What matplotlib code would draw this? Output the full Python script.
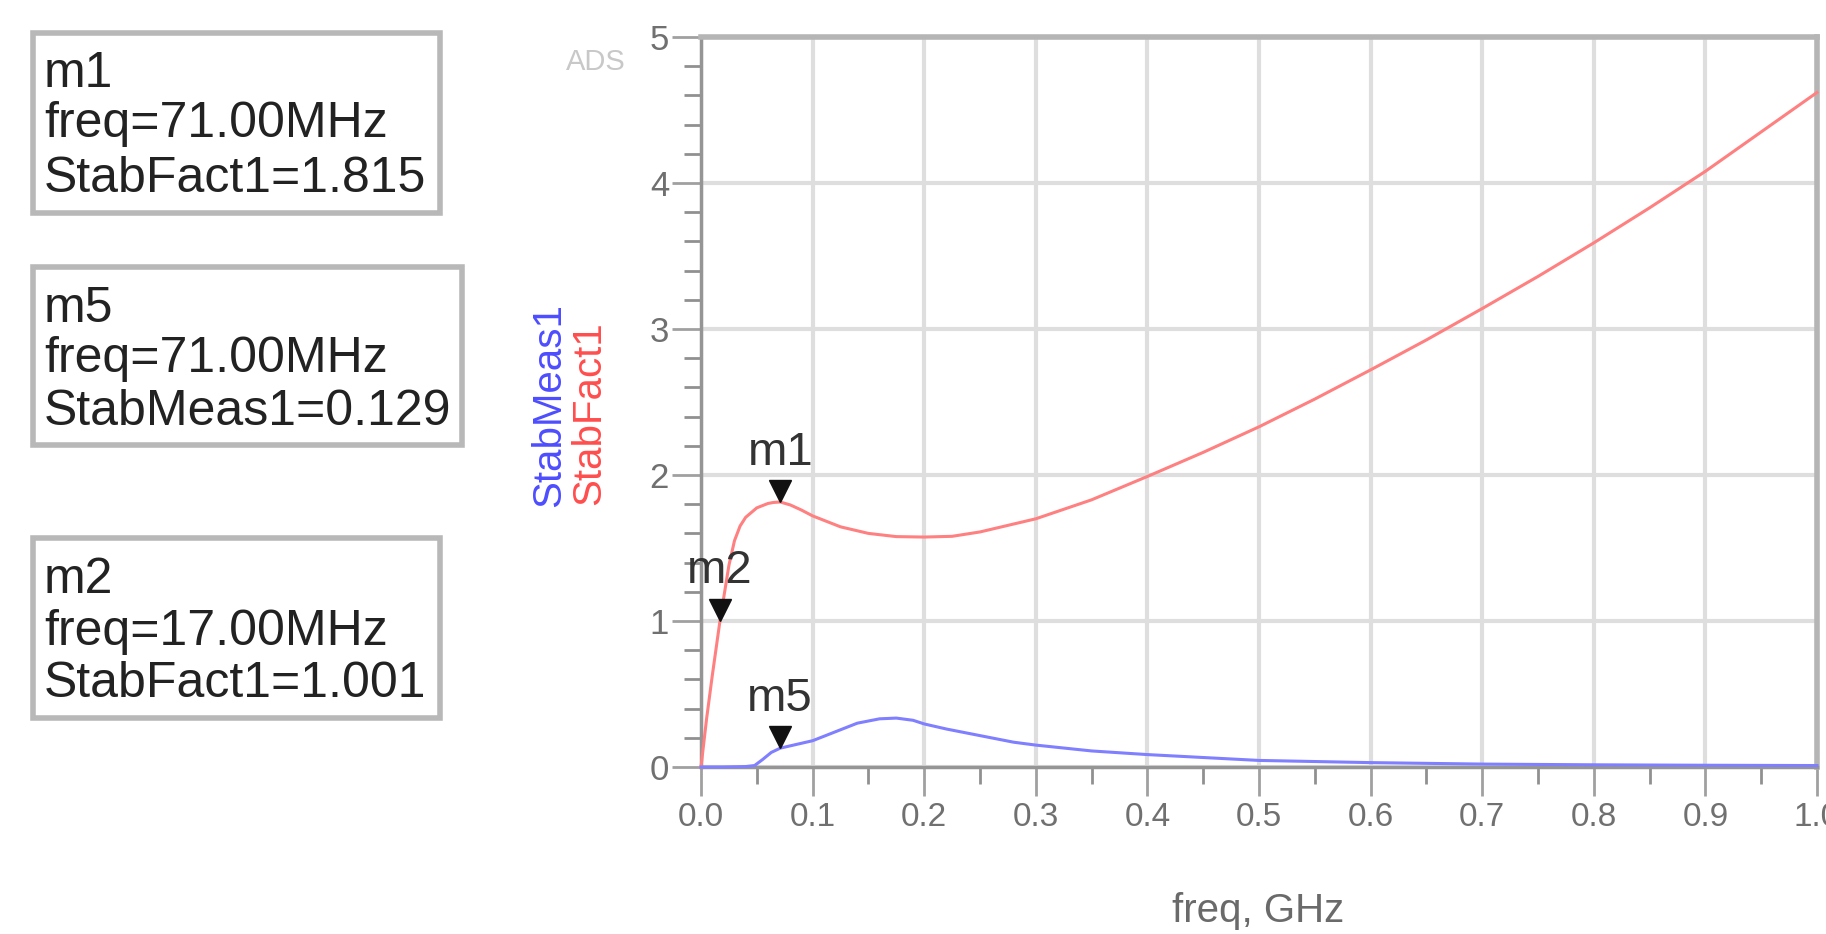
import numpy as np
import matplotlib
matplotlib.use("Agg")
import matplotlib.pyplot as plt
from matplotlib.patches import Rectangle
from matplotlib import transforms

plt.rcParams['font.family'] = ['Liberation Sans', 'DejaVu Sans']

# StabFact1 (red)
freq_k = [0, 0.005, 0.01, 0.017, 0.025, 0.03, 0.035, 0.04, 0.05, 0.06, 0.065,
          0.071, 0.08, 0.09, 0.1, 0.125, 0.15, 0.175, 0.2, 0.225, 0.25, 0.3,
          0.35, 0.4, 0.45, 0.5, 0.55, 0.6, 0.65, 0.7, 0.75, 0.8, 0.85, 0.9,
          0.95, 1.0]
stab_fact = [0, 0.33, 0.62, 1.001, 1.38, 1.55, 1.65, 1.71, 1.775, 1.805, 1.812,
             1.815, 1.795, 1.76, 1.72, 1.645, 1.60, 1.578, 1.575, 1.58, 1.61,
             1.70, 1.83, 1.99, 2.155, 2.33, 2.52, 2.72, 2.925, 3.14, 3.36, 3.59,
             3.83, 4.08, 4.35, 4.62]

# StabMeas1 (blue)
freq_m = [0, 0.02, 0.04, 0.048, 0.055, 0.063, 0.071, 0.08, 0.1, 0.12, 0.14,
          0.16, 0.175, 0.19, 0.2, 0.22, 0.25, 0.28, 0.3, 0.35, 0.4, 0.45, 0.5,
          0.6, 0.7, 0.8, 0.9, 1.0]
stab_meas = [0, 0, 0.003, 0.01, 0.05, 0.10, 0.129, 0.145, 0.18, 0.24, 0.30,
             0.33, 0.335, 0.32, 0.295, 0.26, 0.215, 0.17, 0.15, 0.11, 0.085,
             0.065, 0.045, 0.03, 0.02, 0.015, 0.012, 0.01]

# markers: name, freq (GHz), value
markers = [("m1", 0.071, 1.815), ("m2", 0.017, 1.001), ("m5", 0.071, 0.129)]

# readout boxes
box_lines = [
    ["m1", "freq=71.00MHz", "StabFact1=1.815"],
    ["m5", "freq=71.00MHz", "StabMeas1=0.129"],
    ["m2", "freq=17.00MHz", "StabFact1=1.001"],
]

W, H = 1826, 934
fig = plt.figure(figsize=(W / 100, H / 100), dpi=100)

def fx(x):
    return x / W

def fy(y):
    return 1 - y / H

ax = fig.add_axes([fx(701), fy(767), 1116 / W, 730 / H])
ax.set_xlim(0, 1.0)
ax.set_ylim(0, 5)

ax.plot(freq_k, stab_fact, color='#ff8080', lw=2.2, zorder=3, clip_on=False)
ax.plot(freq_m, stab_meas, color='#7f7fff', lw=2.2, zorder=3, clip_on=False)

ax.set_xticks(np.arange(0, 1.01, 0.1))
ax.set_xticks(np.arange(0.05, 1.0, 0.1), minor=True)
ax.set_xticklabels([f"{v:.1f}" for v in np.arange(0, 1.01, 0.1)])
ax.set_yticks(range(6))
ax.set_yticks([v for v in np.arange(0, 5.01, 0.2) if abs(v - round(v)) > 1e-6], minor=True)

ax.tick_params(axis='x', which='major', length=21, width=2, color='#a0a0a0',
               labelsize=24, labelcolor='#707070', pad=4)
ax.tick_params(axis='x', which='minor', length=12, width=2, color='#909090')
ax.tick_params(axis='y', which='major', length=21, width=2, color='#a0a0a0',
               labelsize=25, labelcolor='#707070', pad=2)
ax.tick_params(axis='y', which='minor', length=12, width=2, color='#909090')

ax.grid(True, which='major', color='#dedede', lw=3)
ax.set_axisbelow(True)
for s in ['left', 'bottom']:
    ax.spines[s].set_color('#959595')
    ax.spines[s].set_linewidth(2.5)
for s in ['top', 'right']:
    ax.spines[s].set_color('#b5b5b5')
    ax.spines[s].set_linewidth(4)

# marker triangles with labels
for name, f, v in markers:
    tri = transforms.offset_copy(ax.transData, fig=fig, x=0, y=8, units='points')
    ax.plot([f], [v], marker='v', ms=16, color='#111111', transform=tri,
            zorder=5, clip_on=False)
    ax.annotate(name, xy=(f, v), xytext=(0, 27), textcoords='offset points',
                ha='center', va='baseline', fontsize=34, color='#333333', zorder=6)

# readout boxes (pixel positions of the frames and baselines)
frames = [(33, 33, 440, 213), (33, 267, 462, 445), (33, 538, 440, 718)]
baselines = [(87, 137, 192), (322, 372, 425), (593, 645, 697)]
for (x0, y0, x1, y1), bl, lines in zip(frames, baselines, box_lines):
    fig.patches.append(Rectangle((fx(x0), fy(y1)), (x1 - x0) / W, (y1 - y0) / H,
                                 transform=fig.transFigure, fill=False,
                                 edgecolor='#b8b8b8', lw=4))
    for yb, txt in zip(bl, lines):
        fig.text(fx(44), fy(yb), txt, fontsize=36, color='#222222',
                 ha='left', va='baseline')

fig.text(fx(596), fy(62), "ADS", fontsize=21, color='#c8c8c8', ha='center', va='center')
fig.text(fx(549), fy(405), "StabMeas1", rotation=90, fontsize=29, color='#4d4dff',
         ha='center', va='center')
fig.text(fx(589), fy(413), "StabFact1", rotation=90, fontsize=29, color='#ff4d4d',
         ha='center', va='center')
fig.text(fx(1258), fy(911), "freq, GHz", fontsize=29, color='#6a6a6a',
         ha='center', va='center')

fig.savefig('out.png', dpi=100)
